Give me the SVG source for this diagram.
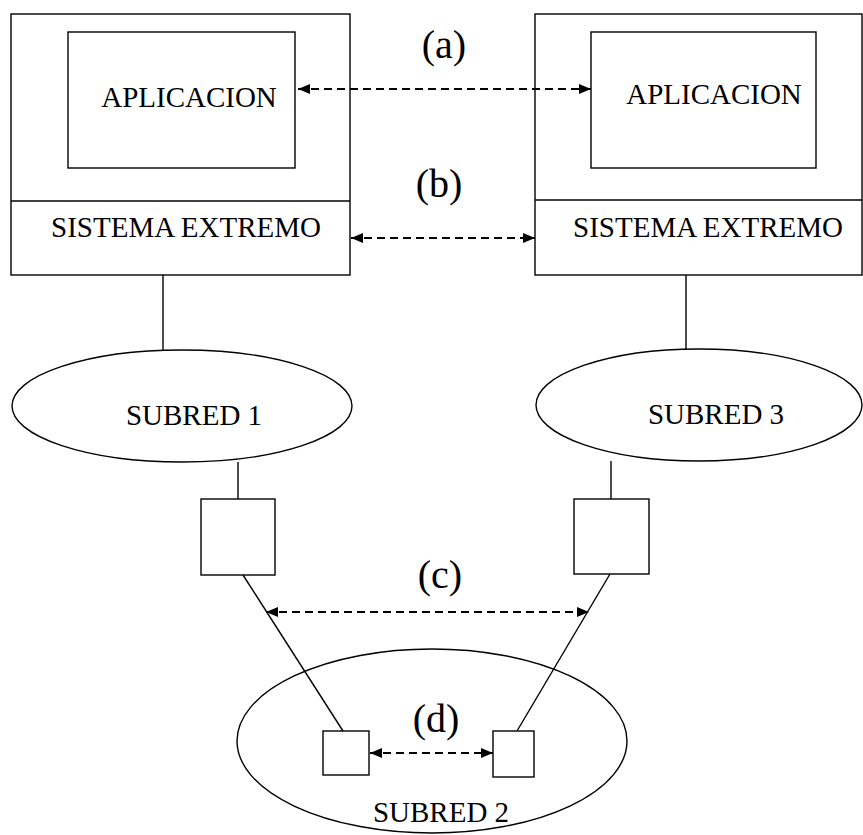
<svg xmlns="http://www.w3.org/2000/svg" width="863" height="835" viewBox="0 0 863 835">
<defs>
<marker id="ah" viewBox="0 0 10 10" refX="10" refY="5" markerWidth="12" markerHeight="10" markerUnits="userSpaceOnUse" orient="auto-start-reverse" preserveAspectRatio="none">
<path d="M0,0 L10,5 L0,10 z" fill="#000"/>
</marker>
<style>
.s{fill:#fff;stroke:#000;stroke-width:1.4}
.l{fill:none;stroke:#000;stroke-width:1.4}
.d{fill:none;stroke:#000;stroke-width:2;stroke-dasharray:8 5;marker-start:url(#ah);marker-end:url(#ah)}
.t{font-family:"Liberation Serif","Times New Roman",serif;font-size:29px;fill:#000;text-anchor:middle}
.lb{font-family:"Liberation Serif","Times New Roman",serif;font-size:40px;fill:#000;text-anchor:middle}
</style>
</defs>
<rect width="863" height="835" fill="#fff"/>
<g id="host-left">
<rect class="s" x="11" y="14" width="339" height="261"/>
<line class="l" x1="11" y1="201" x2="350" y2="201"/>
<rect class="s" x="68" y="32" width="227" height="136"/>
<text class="t" x="189" y="107">APLICACION</text>
<text class="t" x="186" y="237">SISTEMA EXTREMO</text>
</g>
<g id="host-right">
<rect class="s" x="535" y="14" width="327" height="261"/>
<line class="l" x1="535" y1="200" x2="862" y2="200"/>
<rect class="s" x="591" y="32" width="225" height="136"/>
<text class="t" x="714" y="104">APLICACION</text>
<text class="t" x="708" y="237">SISTEMA EXTREMO</text>
</g>
<g id="subred1">
<ellipse class="s" cx="182" cy="406" rx="170" ry="56"/>
<text class="t" x="194" y="425">SUBRED 1</text>
</g>
<g id="subred3">
<ellipse class="s" cx="699" cy="405" rx="163" ry="56"/>
<text class="t" x="716" y="424">SUBRED 3</text>
</g>
<g id="router-left"><rect class="s" x="201" y="499" width="74" height="76"/></g>
<g id="router-right"><rect class="s" x="574" y="499" width="75" height="75"/></g>
<g id="subred2">
<ellipse class="s" cx="432" cy="741" rx="195" ry="92"/>
<text class="t" x="441" y="822">SUBRED 2</text>
</g>
<g id="node-left"><rect class="s" x="323" y="731" width="46" height="44"/></g>
<g id="node-right"><rect class="s" x="493" y="731" width="41" height="46"/></g>
<g id="connectors">
<line class="l" x1="163" y1="275" x2="163" y2="350"/>
<line class="l" x1="238" y1="462" x2="238" y2="499"/>
<line class="l" x1="686" y1="275" x2="686" y2="349"/>
<line class="l" x1="611" y1="461" x2="611" y2="499"/>
<line class="l" x1="243" y1="575" x2="343" y2="731"/>
<line class="l" x1="610" y1="574" x2="517" y2="731"/>
<line class="d" x1="298" y1="89" x2="591" y2="89"/>
<line class="d" x1="351" y1="238" x2="535" y2="238"/>
<line class="d" x1="266" y1="612" x2="589" y2="612"/>
<line class="d" x1="370" y1="753" x2="493" y2="753"/>
</g>
<g id="labels">
<text class="lb" x="444" y="58">(a)</text>
<text class="lb" x="439" y="197">(b)</text>
<text class="lb" x="440" y="588">(c)</text>
<text class="lb" x="436" y="732">(d)</text>
</g>
</svg>
